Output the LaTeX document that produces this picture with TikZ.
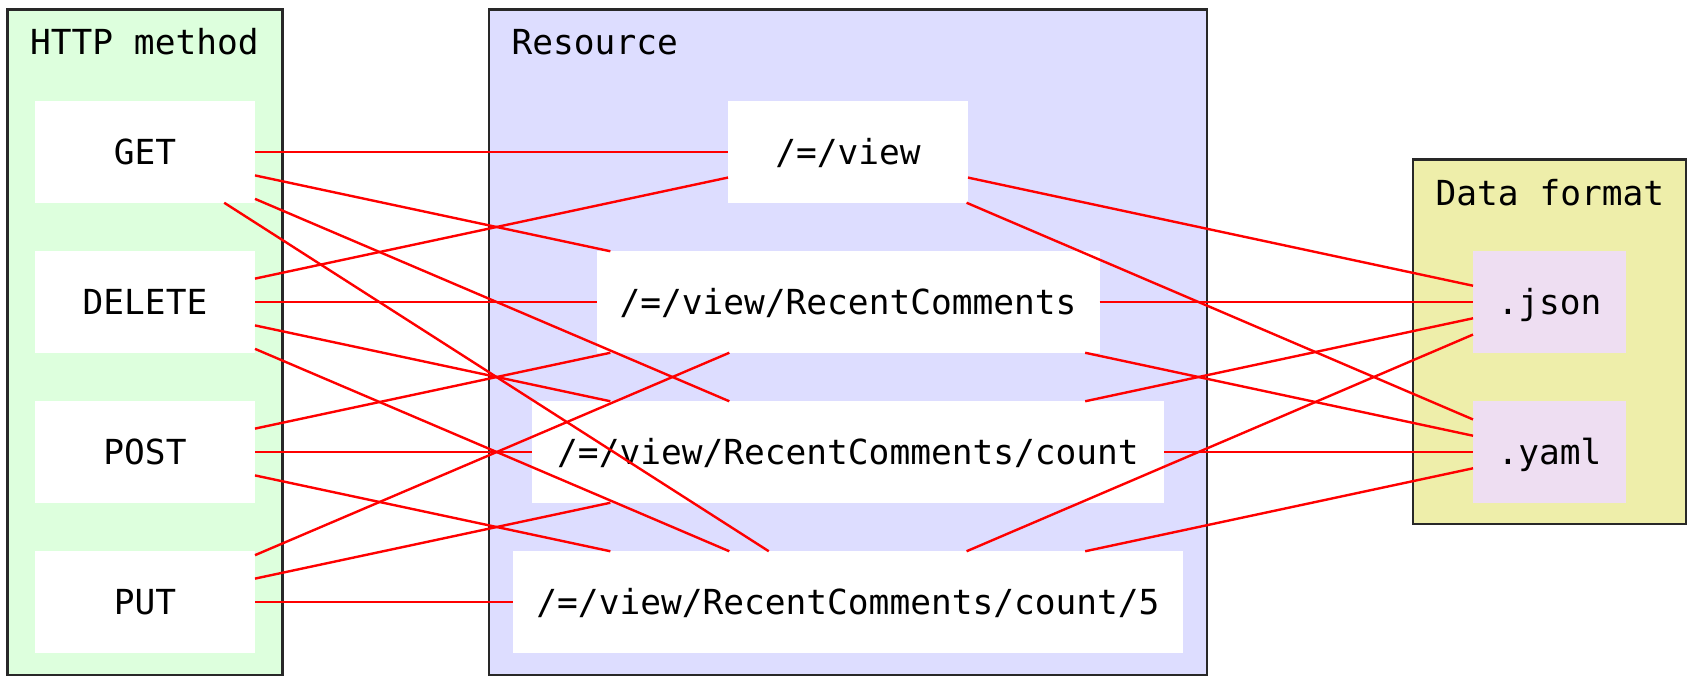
\documentclass[tikz,border=0pt]{standalone}
\usepackage{fontspec}
\setmonofont{DejaVu Sans Mono}
\usetikzlibrary{positioning, fit, backgrounds}
\definecolor{methodGreen}{RGB}{221, 255, 221}
\definecolor{resourceBlue}{RGB}{221, 221, 255}
\definecolor{formatYellow}{RGB}{238, 238, 170}
\definecolor{formatPink}{RGB}{238, 222, 242}
\definecolor{linkRed}{RGB}{255, 0, 0}
\definecolor{frameGray}{RGB}{40, 40, 40}
\tikzset{
    % Base Cell Style
    cell/.style={
        rectangle,
        minimum height=50.75pt,
        text height=12.5pt,
        text depth=0pt,
        inner sep=0pt,
        outer sep=0pt,
        text centered,
        font=\ttfamily\fontsize{17.25pt}{20pt}\selectfont
    },
    % Specific Role Styles
    methodCell/.style={cell, fill=white, minimum width=110pt},
    resourceCell/.style={cell, fill=white},
    formatCell/.style={cell, fill=formatPink, minimum width=76.5pt},
    % Link & Group Styles
    link/.style={draw=linkRed, line width=1.2pt},
    groupBox/.style={rectangle, draw=frameGray, line width=1.25pt, inner ysep=11pt},
    groupLabel/.style={font=\ttfamily\fontsize{17.25pt}{20pt}\selectfont, anchor=base west, inner sep=0pt}
}

\begin{document}
\begin{tikzpicture}[
    node distance=24.25pt
]
    \useasboundingbox (0pt,0pt) rectangle (844pt,-338.5pt);

    % --- LEFT COLUMN (HTTP methods) ---
    \node (GET) [methodCell] at (72.5pt,-76pt) {GET};
    \node (DELETE) [methodCell, below=of GET] {DELETE};
    \node (POST) [methodCell, below=of DELETE] {POST};
    \node (PUT) [methodCell, below=of POST] {PUT};

    % --- MIDDLE COLUMN (Resources) ---
    \node (view) [resourceCell, minimum width=120pt] at (424pt,-76pt) {/=/view};
    \node (recent) [resourceCell, minimum width=251.5pt, below=of view] {/=/view/RecentComments};
    \node (count) [resourceCell, minimum width=316pt, below=of recent] {/=/view/RecentComments/count};
    \node (countFive) [resourceCell, minimum width=334.7pt, below=of count] {/=/view/RecentComments/count/5};

    % --- RIGHT COLUMN (Data formats) ---
    \node (json) [formatCell] at (774.75pt,-151pt) {.json};
    \node (yaml) [formatCell, below=of json] {.yaml};

    % --- Links: method to resource ---
    \draw [link] (GET) -- (view);
    \draw [link] (GET) -- (recent);
    \draw [link] (GET) -- (count);
    \draw [link] (GET) -- (countFive);
    \draw [link] (DELETE) -- (view);
    \draw [link] (DELETE) -- (recent);
    \draw [link] (DELETE) -- (count);
    \draw [link] (DELETE) -- (countFive);
    \draw [link] (POST) -- (recent);
    \draw [link] (POST) -- (count);
    \draw [link] (POST) -- (countFive);
    \draw [link] (PUT) -- (recent);
    \draw [link] (PUT) -- (count);
    \draw [link] (PUT) -- (countFive);

    % --- Links: resource to format ---
    \draw [link] (view) -- (json);
    \draw [link] (view) -- (yaml);
    \draw [link] (recent) -- (json);
    \draw [link] (recent) -- (yaml);
    \draw [link] (count) -- (json);
    \draw [link] (count) -- (yaml);
    \draw [link] (countFive) -- (json);
    \draw [link] (countFive) -- (yaml);

    % --- Background Grouping ---
    \begin{scope}[on background layer]
        % Group 1: HTTP methods
        \coordinate [above=35pt of GET.north] (methodTop);
        \node [groupBox, fit=(methodTop)(GET)(PUT), fill=methodGreen, inner xsep=13.75pt] (methodGroup) {};
        \node [groupLabel] (methodLabel) at ([xshift=11.75pt, yshift=-23.25pt]methodGroup.north west) {HTTP method};

        % Group 2: Resources
        \coordinate [above=35pt of view.north] (resourceTop);
        \node [groupBox, fit=(resourceTop)(view)(countFive), fill=resourceBlue, inner xsep=12.15pt] (resourceGroup) {};
        \node [groupLabel] (resourceLabel) at ([xshift=11.75pt, yshift=-23.25pt]resourceGroup.north west) {Resource};

        % Group 3: Data formats
        \coordinate [above=35.5pt of json.north] (formatTop);
        \node [groupBox, fit=(formatTop)(json)(yaml), fill=formatYellow, inner xsep=30pt, inner ysep=10.5pt] (formatGroup) {};
        \node [groupLabel] (formatLabel) at ([xshift=11.75pt, yshift=-23.75pt]formatGroup.north west) {Data format};
    \end{scope}

\end{tikzpicture}
\end{document}
